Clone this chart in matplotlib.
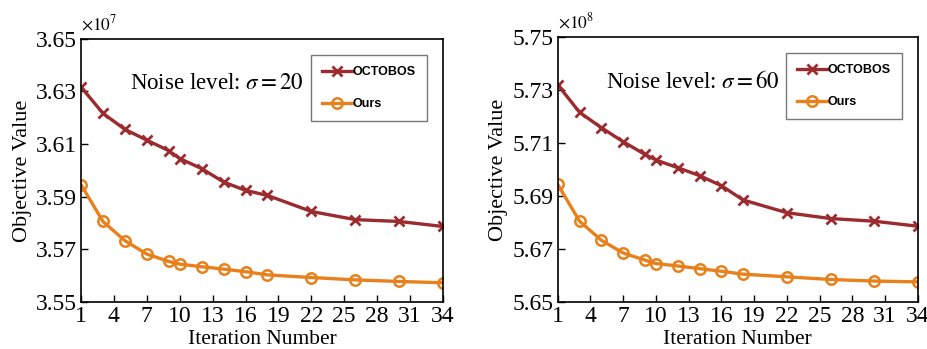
import numpy as np
import matplotlib
matplotlib.use('Agg')
import matplotlib.pyplot as plt

plt.rcParams['font.family'] = 'Liberation Serif'
plt.rcParams['mathtext.fontset'] = 'stix'

iters = [1, 3, 5, 7, 9, 10, 12, 14, 16, 18, 22, 26, 30, 34]
xticks = [1, 4, 7, 10, 13, 16, 19, 22, 25, 28, 31, 34]

# sigma = 20 (x 1e7)
octobos_20 = [3.6317, 3.6217, 3.6156, 3.6115, 3.6075, 3.6045, 3.6007,
              3.5956, 3.5924, 3.5905, 3.5844, 3.5813, 3.5806, 3.5787]
ours_20 = [3.5946, 3.5806, 3.5733, 3.5682, 3.5654, 3.5644, 3.5634,
           3.5625, 3.5615, 3.5603, 3.5593, 3.5584, 3.5578, 3.5573]
yticks_20 = [3.55, 3.57, 3.59, 3.61, 3.63, 3.65]

# sigma = 60 (x 1e8)
octobos_60 = [5.7320, 5.7216, 5.7158, 5.7105, 5.7057, 5.7036, 5.7007,
              5.6977, 5.6939, 5.6885, 5.6837, 5.6815, 5.6805, 5.6786]
ours_60 = [5.6944, 5.6805, 5.6733, 5.6685, 5.6658, 5.6645, 5.6636,
           5.6626, 5.6616, 5.6605, 5.6595, 5.6585, 5.6579, 5.6576]
yticks_60 = [5.65, 5.67, 5.69, 5.71, 5.73, 5.75]

red = '#9b2b2f'
orange = '#e8801c'

fig = plt.figure(figsize=(9.28, 3.49), dpi=100)
ax1 = fig.add_axes([0.0873, 0.1347, 0.390, 0.754])
ax2 = fig.add_axes([0.601, 0.1347, 0.388, 0.759])

def draw(ax, oct_vals, our_vals, yt, sigma, exp):
    ax.plot(iters, oct_vals, color=red, lw=2.4, marker='x', ms=7, mew=2,
            label='OCTOBOS')
    ax.plot(iters, our_vals, color=orange, lw=2.4, marker='o', ms=7.5,
            mew=1.8, mfc='none', label='Ours')
    ax.set_xlim(1, 34)
    ax.set_ylim(yt[0], yt[-1])
    ax.set_xticks(xticks)
    ax.set_yticks(yt)
    ax.set_yticklabels(['%.2f' % v for v in yt])
    ax.tick_params(direction='in', labelsize=17, length=5, width=1,
                   top=False, right=False, pad=3)
    for s in ax.spines.values():
        s.set_linewidth(1.2)
    ax.set_xlabel('Iteration Number', fontsize=15.5, labelpad=2)
    ax.set_ylabel('Objective Value', fontsize=16, labelpad=3)
    ax.text(0.135, 0.83, 'Noise level: $\\sigma = %d$' % sigma,
            transform=ax.transAxes, fontsize=16.5, va='center')
    ax.text(0.0, 1.02, '$\\times 10^{%d}$' % exp, transform=ax.transAxes,
            fontsize=12.5, va='bottom')
    leg = ax.legend(loc='upper right', bbox_to_anchor=(0.955, 0.94),
                    prop={'family': 'Liberation Sans', 'weight': 'bold',
                          'size': 9},
                    fancybox=False, edgecolor='#555555', labelspacing=1.6,
                    handlelength=2.4, handletextpad=0.0, borderpad=0.9,
                    borderaxespad=0)
    leg.get_frame().set_linewidth(1.0)

draw(ax1, octobos_20, ours_20, yticks_20, 20, 7)
draw(ax2, octobos_60, ours_60, yticks_60, 60, 8)

fig.savefig('out.png', dpi=100)
